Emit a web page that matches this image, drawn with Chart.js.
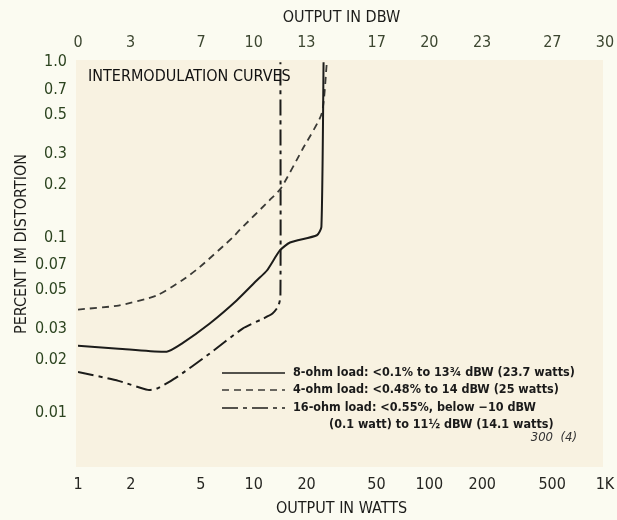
<!DOCTYPE html>
<html>
<head>
<meta charset="utf-8">
<script src="https://cdn.jsdelivr.net/npm/chart.js@4/dist/chart.umd.min.js"></script>
<style>
  html, body { margin: 0; padding: 0; background: #fbfbf1; }
  canvas { display: block; }
</style>
</head>
<body>
<canvas id="imChart" width="617" height="520"></canvas>
<script>
// readings (watts vs percent IM distortion)
const eightOhmWatts = [1, 1.7, 3.2, 3.9, 5.6, 8.0, 10.4, 11.9, 14.1, 16.1, 22.9, 24.3, 25.0];
const eightOhmPct   = [0.0241, 0.0232, 0.0223, 0.0248, 0.0322, 0.0437, 0.0568, 0.0648, 0.0843, 0.0936, 0.103, 0.115, 1.0];

const fourOhmWatts = [1, 1.7, 2.8, 3.9, 4.9, 7.6, 8.3, 12.3, 14.3, 19, 24.4, 26.1];
const fourOhmPct   = [0.0388, 0.0409, 0.0466, 0.0568, 0.0674, 0.1, 0.11, 0.163, 0.191, 0.32, 0.51, 1.0];

const sixteenOhmWatts = [1, 1.7, 2.5, 2.8, 3.6, 5.6, 8.65, 11.3, 12.8, 13.8, 14.2, 14.2];
const sixteenOhmPct   = [0.0171, 0.0152, 0.0135, 0.0137, 0.0158, 0.0217, 0.0302, 0.0344, 0.0368, 0.0405, 0.046, 1.0];

const wattTicks = [1, 2, 5, 10, 20, 50, 100, 200, 500, 1000];
const dbwTicks = [0, 3, 7, 10, 13, 17, 20, 23, 27, 30];
const pctTicks = [1.0, 0.7, 0.5, 0.3, 0.2, 0.1, 0.07, 0.05, 0.03, 0.02, 0.01];

const legendLabels = [
  '8-ohm load: <0.1% to 13\u00BE dBW (23.7 watts)',
  '4-ohm load: <0.48% to 14 dBW (25 watts)',
  '16-ohm load: <0.55%, below \u221210 dBW'
];
const legendExtra = '(0.1 watt) to 11\u00BD dBW (14.1 watts)';

const FAMILY = "'DejaVu Sans Condensed', 'Liberation Sans Narrow', sans-serif";
const INK = '#1c1c1a';

const toPoints = (xs, ys) => xs.map((x, i) => ({ x: x, y: ys[i] }));

// keep label overhang from shrinking the plot
const fitX = h => s => { s.height = h; s.paddingLeft = 0; s.paddingRight = 0; };

const paper = {
  id: 'paper',
  beforeDraw(chart) {
    const { ctx, chartArea: a } = chart;
    ctx.save();
    ctx.fillStyle = '#fbfbf1';
    ctx.fillRect(0, 0, chart.width, chart.height);
    ctx.fillStyle = '#f8f2e1';
    ctx.fillRect(a.left - 2, a.top, a.right - a.left, a.bottom - a.top);
    ctx.restore();
  },
  afterDraw(chart) {
    const { ctx, chartArea: a } = chart;
    ctx.save();

    // y axis title
    ctx.fillStyle = INK;
    ctx.font = '16px ' + FAMILY;
    ctx.textAlign = 'center';
    ctx.textBaseline = 'middle';
    ctx.translate(22, 244);
    ctx.rotate(-Math.PI / 2);
    ctx.fillText('PERCENT IM DISTORTION', 0, 0);
    ctx.setTransform(1, 0, 0, 1, 0, 0);

    // heading in the plot
    ctx.textAlign = 'left';
    ctx.font = '16px ' + FAMILY;
    ctx.fillStyle = '#111';
    ctx.fillText('INTERMODULATION CURVES', a.left + 10, a.top + 17);

    // legend
    const x0 = a.left + 144, x1 = a.left + 207, tx = a.left + 215;
    const rows = [a.top + 313, a.top + 330, a.top + 348];
    ctx.font = 'bold 12.5px ' + FAMILY;
    chart.data.datasets.forEach((ds, i) => {
      ctx.strokeStyle = ds.borderColor;
      ctx.lineWidth = 1.6;
      ctx.setLineDash(ds.borderDash || []);
      ctx.beginPath();
      ctx.moveTo(x0, rows[i]);
      ctx.lineTo(x1, rows[i]);
      ctx.stroke();
      ctx.setLineDash([]);
      ctx.fillStyle = '#1a1a1a';
      ctx.fillText(legendLabels[i], tx, rows[i]);
    });
    ctx.fillText(legendExtra, a.left + 251, a.top + 365);

    // figure number
    ctx.font = 'italic 13px ' + FAMILY;
    ctx.fillStyle = '#333';
    ctx.textAlign = 'right';
    ctx.fillText('300  (4)', a.right - 28, a.top + 378);
    ctx.restore();
  }
};

new Chart(document.getElementById('imChart'), {
  type: 'line',
  data: {
    datasets: [
      {
        label: '8-ohm load',
        data: toPoints(eightOhmWatts, eightOhmPct),
        borderColor: INK,
        borderWidth: 2,
        xAxisID: 'x', yAxisID: 'y'
      },
      {
        label: '4-ohm load',
        data: toPoints(fourOhmWatts, fourOhmPct),
        borderColor: '#3a3a36',
        borderWidth: 1.8,
        borderDash: [7, 5],
        xAxisID: 'x', yAxisID: 'y'
      },
      {
        label: '16-ohm load',
        data: toPoints(sixteenOhmWatts, sixteenOhmPct),
        borderColor: INK,
        borderWidth: 2,
        borderDash: [16, 5, 4, 5],
        xAxisID: 'x', yAxisID: 'y'
      }
    ]
  },
  options: {
    responsive: false,
    animation: false,
    layout: { padding: { right: 12, left: 0, top: 0, bottom: 0 } },
    elements: { point: { radius: 0 }, line: { tension: 0.2, fill: false } },
    plugins: { legend: { display: false }, tooltip: { enabled: false } },
    scales: {
      x: {
        type: 'logarithmic',
        position: 'bottom',
        min: 1, max: 1000,
        afterBuildTicks: s => { s.ticks = wattTicks.map(v => ({ value: v })); },
        afterFit: fitX(53),
        grid: { display: false, drawTicks: false },
        border: { display: false },
        ticks: {
          autoSkip: false, maxRotation: 0, padding: 8,
          color: '#262622',
          font: { family: FAMILY, size: 16 },
          callback: v => v === 1000 ? '1K' : String(v)
        },
        title: {
          display: true, text: 'OUTPUT IN WATTS', color: INK,
          font: { family: FAMILY, size: 16 },
          padding: { top: 0, bottom: 2 }
        }
      },
      dbw: {
        type: 'linear',
        position: 'top',
        min: 0, max: 30,
        afterBuildTicks: s => { s.ticks = dbwTicks.map(v => ({ value: v })); },
        afterFit: fitX(60),
        grid: { display: false, drawTicks: false },
        border: { display: false },
        ticks: {
          autoSkip: false, maxRotation: 0, padding: 8,
          color: '#3c4630',
          font: { family: FAMILY, size: 16 }
        },
        title: {
          display: true, text: 'OUTPUT IN DBW', color: INK,
          font: { family: FAMILY, size: 16 },
          padding: { top: 8, bottom: 0 }
        }
      },
      y: {
        type: 'logarithmic',
        min: 0.0049, max: 1.03,
        afterBuildTicks: s => { s.ticks = pctTicks.map(v => ({ value: v })); },
        afterFit: s => { s.width = 78; },
        grid: { display: false, drawTicks: false },
        border: { display: false },
        ticks: {
          autoSkip: false, padding: 11,
          color: '#2c4420',
          font: { family: FAMILY, size: 16 },
          callback: v => v === 1 ? '1.0' : String(v)
        }
      }
    }
  },
  plugins: [paper]
});
</script>
</body>
</html>
